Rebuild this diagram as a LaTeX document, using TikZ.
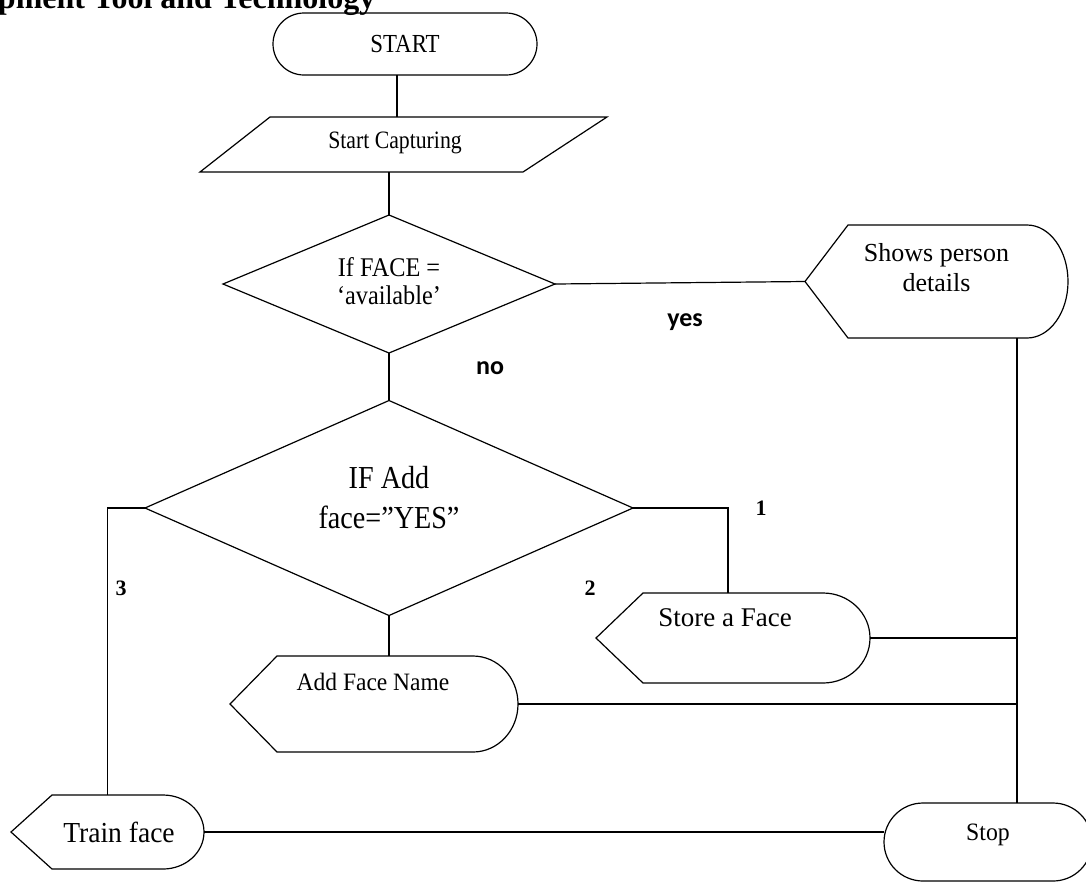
\documentclass[tikz,border=0pt]{standalone}
\usepackage{fontspec}
\setmainfont{Liberation Serif}
\newfontfamily\labfont{Carlito}
\usetikzlibrary{shapes.geometric,shapes.misc}

% horizontally condensed text
\newcommand\sx[2]{\scalebox{#1}[1]{#2}}
% font size with matching line spacing
\newcommand\fsz[2]{\fontsize{#1}{#2}\selectfont}

% outline of a display symbol: pointed left end, rounded right end
% #1 node, #2 depth of the point, #3 x-radius of the rounded end, #4 half height
\newcommand\dispframe[4]{%
  \draw (#1.west) -- ([xshift=#2pt]#1.north west) -- ([xshift=-#3pt]#1.north east)
    .. controls ([xshift={-0.4477*#3*1pt}]#1.north east) and ([yshift={0.5523*#4*1pt}]#1.east) .. (#1.east)
    .. controls ([yshift={-0.5523*#4*1pt}]#1.east) and ([xshift={-0.4477*#3*1pt}]#1.south east) .. ([xshift=-#3pt]#1.south east)
    -- ([xshift=#2pt]#1.south west) -- cycle;}

\begin{document}
\begin{tikzpicture}[x=1pt,y=-1pt,line width=1.2pt,
  every node/.style={inner sep=0pt,outer sep=0pt},
  term/.style={rounded rectangle,draw},
  frame/.style={rectangle,draw=none},
  decision/.style={diamond,draw},
  txt/.style={align=center},
  tag/.style={font=\bfseries\fsz{22}{22}},
  branch/.style={font=\labfont\bfseries\fsz{26}{26}},
]
\fill[white] (0,0) rectangle (1086,887);
\useasboundingbox (0,0) rectangle (1086,887);

% section heading, cut by the top edge
\node[anchor=base west,font=\bfseries\fsz{32}{32}] (head) at (-2,8) {pment Tool and Technology};

% start
\node[term,minimum width=264pt,minimum height=62pt,font=\fsz{26}{26}] (start) at (405,44) {\sx{0.88}{START}};

% input: start capturing
\node[frame,minimum width=407pt,minimum height=55pt] (cap) at (403.5,144.5) {};
\draw ([xshift=70pt]cap.north west) -- (cap.north east) -- ([xshift=-84pt]cap.south east) -- (cap.south west) -- cycle;
\node[txt,font=\fsz{25}{25}] (cap-t) at (395,143) {\sx{0.87}{Start Capturing}};

% first decision
\node[decision,minimum width=332pt,minimum height=138pt] (d1) at (389,284) {};
\node[txt,font=\fsz{27}{28}] (d1-t) at (389,281) {\sx{0.9}{If FACE =}\\\sx{0.9}{‘available’}};

% second decision
\node[decision,minimum width=488pt,minimum height=215pt] (d2) at (389,508) {};
\node[txt,font=\fsz{32}{40}] (d2-t) at (389,498) {\sx{0.88}{IF Add}\\\sx{0.88}{face=”YES”}};

% displays
\node[frame,minimum width=263pt,minimum height=113pt] (show) at (936.5,281.5) {};
\dispframe{show}{43}{41}{56.5}
\node[txt,font=\fsz{26}{30}] (show-t) at ([yshift=14pt]show.center) {Shows person\\details};

\node[frame,minimum width=274pt,minimum height=90pt] (store) at (733,638) {};
\dispframe{store}{47}{47}{45}
\node[font=\fsz{27}{27}] (store-t) at ([xshift=-8pt,yshift=20pt]store.center) {Store a Face};

\node[frame,minimum width=288pt,minimum height=96pt] (addname) at (374,704) {};
\dispframe{addname}{47}{45}{48}
\node[font=\fsz{25}{25}] (addname-t) at ([xshift=-1pt,yshift=22pt]addname.center) {\sx{0.94}{Add Face Name}};

\node[frame,minimum width=193pt,minimum height=74pt] (train) at (107.5,832) {};
\dispframe{train}{41}{41}{37}
\node[font=\fsz{29}{29}] (train-t) at ([xshift=11.5pt]train.center) {\sx{0.95}{Train face}};

% stop
\node[term,minimum width=208pt,minimum height=78pt] (stop) at (988,842) {};
\node[font=\fsz{25}{25}] (stop-t) at ([yshift=7pt]stop.center) {\sx{0.95}{Stop}};

% connectors
\draw ([xshift=-8pt]start.south) -- ([xshift=-8pt]start.south |- cap.north);
\draw (d1.north |- cap.south) -- (d1.north);
\draw (d1.east) -- (show.west);
\draw (d1.south) -- (d2.north);
\draw (d2.east) -| ([xshift=-5pt]store.north);
\draw (d2.south) -- (d2.south |- addname.north);
\draw (d2.west) -| (train.north);

\coordinate (busTop) at ([xshift=80.5pt]show.south);
\coordinate (busBot) at (busTop |- stop.north);
\draw (busTop) -- (busBot);
\draw (store.east) -- (store.east -| busTop);
\draw (addname.east) -- (addname.east -| busTop);
\draw (train.east) -- (train.east -| stop.west);

% branch labels
\node[branch] (yes) at (685,322) {yes};
\node[branch] (no) at (490,368) {no};
\node[tag] (one) at (761,508) {1};
\node[tag] (two) at (590,588) {2};
\node[tag] (three) at (121,588) {3};
\end{tikzpicture}
\end{document}
